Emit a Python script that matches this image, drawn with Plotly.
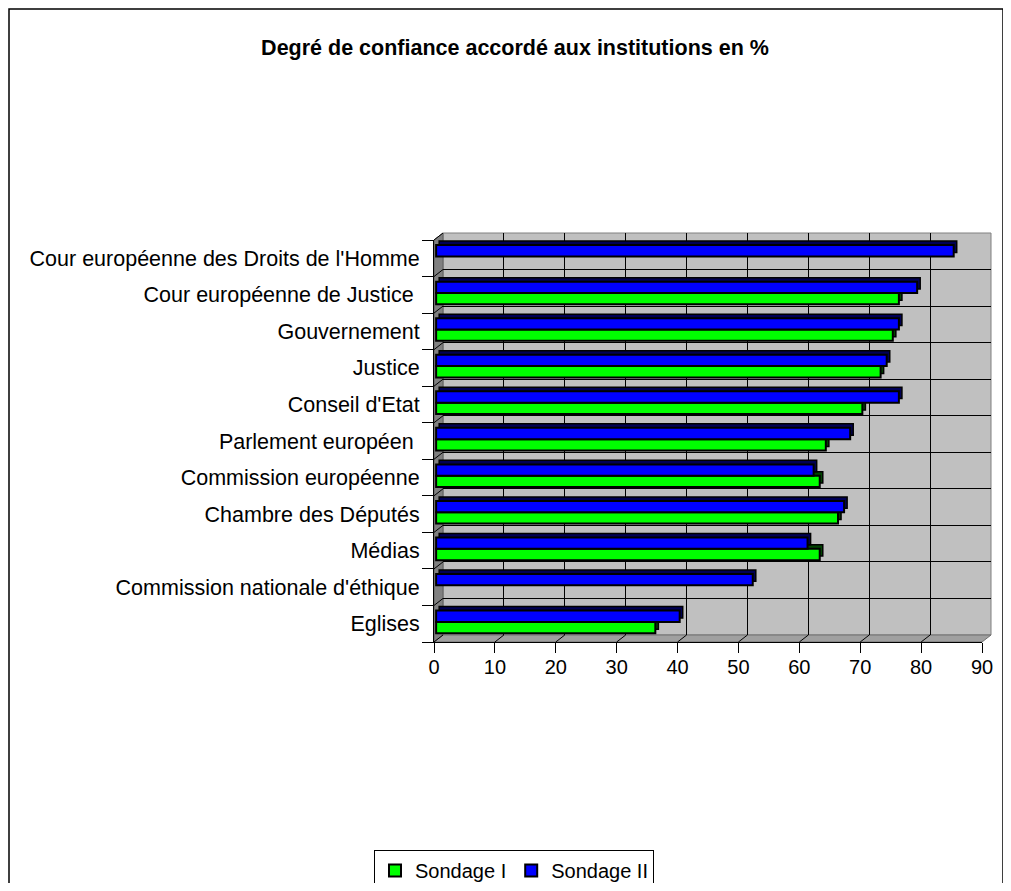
# Imports
import plotly.graph_objects as go

# Data, listed top to bottom
institutions = [
    "Cour européenne des Droits de l'Homme",
    "Cour européenne de Justice\u00a0",
    "Gouvernement",
    "Justice",
    "Conseil d'Etat",
    "Parlement européen\u00a0",
    "Commission européenne",
    "Chambre des Députés",
    "Médias",
    "Commission nationale d'éthique",
    "Eglises",
]
sondage_1 = [None, 76, 75, 73, 70, 64, 63, 66, 63, None, 36]
sondage_2 = [85, 79, 76, 74, 76, 68, 62, 67, 61, 52, 40]
x_ticks = [0, 10, 20, 30, 40, 50, 60, 70, 80, 90]

# The html body has an 8px margin, so the figure is made a bit smaller
# and every page position is moved by that offset
OFF = 8
W, H = 1011 - 2 * OFF, 891 - 2 * OFF

# Pixel geometry of the fake 3D box (page coordinates)
left, right, top, bottom = 434, 991, 233, 642
dx, dy = 9, 7  # depth of the box in pixels
pw, ph = right - left, bottom - top


def px(x):
    return (x - left) / pw


def py(y):
    return (bottom - y) / ph


fx1 = (pw - dx) / pw  # front face right edge (paper)
fy1 = (ph - dy) / ph  # front face top edge (paper)
bx0 = dx / pw  # back wall left edge (paper)
by0 = dy / ph  # back wall bottom edge (paper)

font = "Liberation Sans, Arial, sans-serif"

# Bar geometry (category units)
bar_w = 0.31
shadow_dy = 0.11
front_base = 0.35
shadow_base = 0.85
green_off = -0.26
blue_off = 0.05

fig = go.Figure()

# Empty trace so the back wall axes (and their grid) get drawn
fig.add_trace(
    go.Scatter(x=[None], y=[None], xaxis="x", yaxis="y", showlegend=False, hoverinfo="skip")
)

bar_common = dict(
    y=institutions, orientation="h", width=bar_w, xaxis="x2", yaxis="y2", hoverinfo="skip"
)

# Sondage I
fig.add_trace(
    go.Bar(
        x=sondage_1,
        base=shadow_base,
        offset=green_off + shadow_dy,
        marker=dict(color="#004400", line=dict(color="black", width=1.5)),
        showlegend=False,
        **bar_common,
    )
)
fig.add_trace(
    go.Bar(
        x=sondage_1,
        base=front_base,
        offset=green_off,
        name="Sondage I",
        marker=dict(color="#00ff00", line=dict(color="black", width=2)),
        **bar_common,
    )
)

# Sondage II
fig.add_trace(
    go.Bar(
        x=sondage_2,
        base=shadow_base,
        offset=blue_off + shadow_dy,
        marker=dict(color="#000055", line=dict(color="black", width=1.5)),
        showlegend=False,
        **bar_common,
    )
)
fig.add_trace(
    go.Bar(
        x=sondage_2,
        base=front_base,
        offset=blue_off,
        name="Sondage II",
        marker=dict(color="#0000ff", line=dict(color="black", width=2)),
        **bar_common,
    )
)

# Walls of the 3D box
shapes = [
    # outer chart border
    dict(type="rect", xref="paper", yref="paper", x0=px(9), x1=px(1003), y0=py(9), y1=py(900),
         line=dict(color="black", width=1.5), layer="below"),
    # back wall
    dict(type="rect", xref="paper", yref="paper", x0=bx0, x1=1, y0=by0, y1=1,
         fillcolor="#c0c0c0", line=dict(color="#808080", width=1), layer="below"),
    # left wall
    dict(type="path", xref="paper", yref="paper",
         path=f"M 0,0 L 0,{fy1} L {bx0},1 L {bx0},{by0} Z",
         fillcolor="#808080", line=dict(color="#606060", width=1), layer="below"),
    # floor
    dict(type="path", xref="paper", yref="paper",
         path=f"M 0,0 L {fx1},0 L 1,{by0} L {bx0},{by0} Z",
         fillcolor="#a0a0a0", line=dict(color="#707070", width=1), layer="below"),
]

# Little diagonal ticks on the left wall (category boundaries)
n = len(institutions)
for k in range(n + 1):
    fy = k / n * fy1
    by = by0 + k / n * (1 - by0)
    shapes.append(dict(type="line", xref="paper", yref="paper", x0=0, x1=bx0, y0=fy, y1=by,
                       line=dict(color="black", width=1), layer="below"))

# Little diagonal ticks on the floor
for v in x_ticks[1:-1]:
    fx = v / 90 * fx1
    bx = bx0 + v / 90 * (1 - bx0)
    shapes.append(dict(type="line", xref="paper", yref="paper", x0=fx, x1=bx, y0=0, y1=by0,
                       line=dict(color="black", width=1), layer="below"))

fig.update_layout(
    width=W,
    height=H,
    margin=dict(l=left - OFF, r=W - (right - OFF), t=top - OFF, b=H - (bottom - OFF), pad=0,
                autoexpand=False),
    paper_bgcolor="white",
    plot_bgcolor="rgba(0,0,0,0)",
    barmode="overlay",
    font=dict(family=font, size=20, color="black"),
    title=dict(
        text="<b>Degré de confiance accordé aux institutions en %</b>",
        font=dict(family=font, size=21.5, color="black"),
        xref="container",
        yref="container",
        x=(515 - OFF) / W,
        xanchor="center",
        y=1 - (47 - OFF) / H,
        yanchor="middle",
    ),
    # back wall grid
    xaxis=dict(
        domain=[bx0, 1], anchor="y", range=[0, 90], tickvals=x_ticks[1:-1],
        showgrid=True, gridcolor="black", gridwidth=1, showticklabels=False,
        ticks="", zeroline=False, showline=False, fixedrange=True,
    ),
    yaxis=dict(
        domain=[by0, 1], anchor="x", range=[-0.5, n - 0.5],
        tickvals=[k + 0.5 for k in range(n - 1)],
        showgrid=True, gridcolor="black", gridwidth=1, showticklabels=False,
        ticks="", zeroline=False, showline=False, fixedrange=True,
    ),
    # front axes carrying the bars
    xaxis2=dict(
        domain=[0, fx1], anchor="y2", range=[0, 90], tickvals=x_ticks,
        ticks="outside", ticklen=10, tickcolor="black", showline=True, linecolor="black",
        showgrid=False, zeroline=False, tickfont=dict(size=20), ticklabelstandoff=-3,
        fixedrange=True,
    ),
    yaxis2=dict(
        domain=[0, fy1], anchor="x2", type="category", categoryorder="array",
        categoryarray=list(reversed(institutions)), range=[-0.5, n - 0.5],
        tickson="boundaries", ticks="outside", ticklen=11, tickcolor="black",
        showline=True, linecolor="black", showgrid=False, zeroline=False,
        tickfont=dict(size=21.5), ticklabelstandoff=9, fixedrange=True,
    ),
    legend=dict(
        orientation="h",
        xref="container",
        yref="container",
        x=(514 - OFF) / W,
        xanchor="center",
        y=1 - (850 - OFF) / H,
        yanchor="top",
        bordercolor="black",
        borderwidth=1,
        bgcolor="white",
        font=dict(size=20),
        itemwidth=30,
        traceorder="normal",
    ),
    shapes=shapes,
)

fig.write_html("out.html")
